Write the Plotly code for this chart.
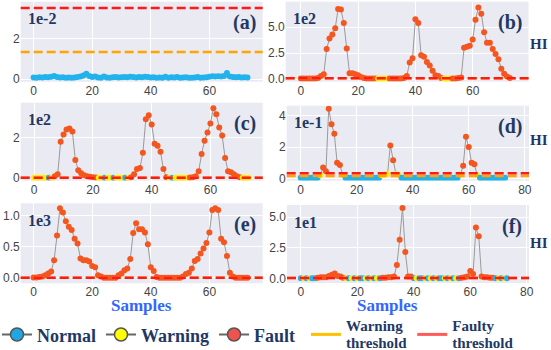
import plotly.graph_objects as go

# ---------------- data ----------------
samples = list(range(74))

# (a) scale 1e-2
hi_a = [0.08, 0.07, 0.09, 0.08, 0.10, 0.09, 0.11, 0.15, 0.10, 0.08,
        0.09, 0.07, 0.08, 0.06, 0.08, 0.10, 0.12, 0.18, 0.26, 0.15,
        0.10, 0.12, 0.08, 0.06, 0.12, 0.08, 0.07, 0.09, 0.10, 0.08,
        0.09, 0.10, 0.09, 0.11, 0.10, 0.08, 0.10, 0.09, 0.11, 0.10,
        0.08, 0.09, 0.07, 0.08, 0.06, 0.11, 0.07, 0.09, 0.08, 0.10,
        0.07, 0.08, 0.09, 0.07, 0.06, 0.08, 0.10, 0.07, 0.08, 0.09,
        0.11, 0.14, 0.12, 0.14, 0.13, 0.15, 0.30, 0.12, 0.10, 0.09,
        0.10, 0.08, 0.09, 0.08]
cls_a = "N" * 74

# (b) scale 1e2
hi_b = [0.05, 0.05, 0.05, 0.05, 0.05, 0.06, 0.10, 0.30, 0.45, 2.90,
        3.90, 4.30, 4.90, 6.75, 6.70, 5.40, 2.95, 0.55, 0.55, 0.45,
        0.35, 0.20, 0.10, 0.06, 0.05, 0.05, 0.05, 0.05, 0.05, 0.05,
        0.05, 0.05, 0.05, 0.05, 0.05, 0.05, 0.10, 0.30, 1.60, 2.00,
        5.75, 5.40, 2.30, 2.15, 1.65, 1.30, 0.80, 0.35, 0.30, 0.10,
        0.05, 0.05, 0.05, 0.05, 0.05, 0.10, 0.15, 3.00, 3.10, 3.20,
        3.80, 5.70, 6.90, 6.30, 4.50, 3.50, 3.50, 2.90, 2.40, 1.90,
        1.00, 0.50, 0.25, 0.10]
cls_b = ("FFFFFFFFFF" "FFFFFFFFFF" "FFFFFFFWWW" "WFFFFFFFFF"
         "FFFFFFFFFF" "WWWFFFFFFF" "FFFFFFFFFF" "FFFF")

# (c) scale 1e2
hi_c = [0.03, 0.03, 0.03, 0.03, 0.03, 0.03, 0.03, 0.10, 0.20, 1.80,
        2.15, 2.40, 2.45, 2.30, 0.90, 0.40, 0.25, 0.15, 0.10, 0.07,
        0.05, 0.04, 0.03, 0.03, 0.03, 0.03, 0.03, 0.03, 0.03, 0.03,
        0.03, 0.03, 0.03, 0.05, 0.20, 0.45, 0.50, 1.25, 2.90, 3.10,
        2.65, 1.70, 1.60, 1.30, 0.45, 0.05, 0.03, 0.03, 0.03, 0.03,
        0.03, 0.03, 0.03, 0.04, 0.05, 0.10, 0.35, 1.20, 1.85, 2.25,
        2.70, 3.45, 3.15, 2.50, 2.10, 1.00, 0.35, 0.30, 0.20, 0.10,
        0.05, 0.03, 0.03, 0.03]
cls_c = ("WWWWWNWFFF" "FFFFFFFFFF" "FFWWNWWNWW" "WNWFFFFFFF"
         "FFFFFFWNWW" "WWWFFFFFFF" "FFFFFFFFFF" "FWWW")

# (d) scale 1e-1
hi_d = [0.04, 0.04, 0.04, 0.04, 0.04, 0.04, 0.04, 0.22, 0.70, 0.45,
        4.45, 3.45, 2.85, 1.00, 0.85, 0.22, 0.04, 0.04, 0.04, 0.04,
        0.04, 0.04, 0.04, 0.04, 0.04, 0.04, 0.04, 0.04, 0.04, 0.20,
        0.25, 0.28, 2.10, 1.15, 0.28, 0.20, 0.04, 0.04, 0.04, 0.04,
        0.04, 0.04, 0.04, 0.04, 0.04, 0.04, 0.04, 0.04, 0.04, 0.04,
        0.04, 0.04, 0.04, 0.04, 0.04, 0.04, 0.04, 0.25, 0.80, 2.65,
        2.00, 1.00, 0.90, 0.22, 0.04, 0.04, 0.04, 0.04, 0.04, 0.04,
        0.04, 0.04, 0.04, 0.04]
cls_d = ("NNNNNNNWFF" "FFFFFWNNNN" "NNNNNNNNNW" "WWFFWWNNNN"
         "NNNNNNNNNN" "NNNNNNNWFF" "FFFWNNNNNN" "NNNN")

# (e) scale 1e3
hi_e = [0.005, 0.005, 0.01, 0.02, 0.04, 0.07, 0.10, 0.28, 0.68, 1.12,
        1.05, 0.91, 0.82, 0.77, 0.63, 0.55, 0.31, 0.28, 0.28, 0.26,
        0.19, 0.17, 0.04, 0.02, 0.00, 0.00, 0.00, 0.00, 0.00, 0.04,
        0.07, 0.12, 0.15, 0.30, 0.72, 0.88, 0.78, 0.78, 0.73, 0.54,
        0.17, 0.11, 0.01, 0.00, 0.00, 0.00, 0.00, 0.00, 0.00, 0.00,
        0.00, 0.02, 0.06, 0.08, 0.15, 0.27, 0.30, 0.39, 0.47, 0.56,
        0.73, 1.09, 1.12, 1.09, 0.63, 0.57, 0.35, 0.08, 0.02, 0.00,
        0.00, 0.00, 0.00, 0.00]
cls_e = "F" * 74

# (f) scale 1e1
hi_f = [0.00, 0.00, 0.00, 0.00, 0.00, 0.00, 0.05, 0.10, 0.10, 0.10,
        0.20, 0.30, 0.40, 0.20, 0.15, 0.05, 0.00, 0.00, 0.00, 0.00,
        0.00, 0.00, 0.00, 0.00, 0.00, 0.00, 0.00, 0.00, 0.00, 0.05,
        0.05, 0.10, 0.10, 0.15, 1.10, 3.15, 5.75, 2.15, 0.15, 0.15,
        0.00, 0.00, 0.00, 0.00, 0.00, 0.00, 0.00, 0.00, 0.00, 0.00,
        0.00, 0.00, 0.00, 0.00, 0.00, 0.00, 0.00, 0.05, 0.10, 0.15,
        0.60, 0.35, 4.15, 3.45, 0.15, 0.10, 0.10, 0.05, 0.05, 0.00,
        0.00, 0.00, 0.00, 0.00]
cls_f = ("NWNWNNFFFF" "FFFFFFWNWN" "WNNWNWNWNF" "FFFFFFFFFF"
         "NWNNWNWNWN" "NWNWNWNFFF" "FFFFFFFFFN" "WNWN")

series = [hi_a, hi_b, hi_c, hi_d, hi_e, hi_f]
classes = [cls_a, cls_b, cls_c, cls_d, cls_e, cls_f]
scale_labels = ["1e-2", "1e2", "1e2", "1e-1", "1e3", "1e1"]
panel_labels = ["(a)", "(b)", "(c)", "(d)", "(e)", "(f)"]
warning_threshold = [1.33, 0.08, 0.03, 0.15, 0.00, 0.02]
fault_threshold = [3.49, 0.08, 0.03, 0.32, 0.00, 0.02]
class_names = {"N": "Normal", "W": "Warning", "F": "Fault"}

# ---------------- styles / layout ----------------
W, H = 551, 350
GH = 316  # height of plotting grid region (bottom margin holds legend)
NAVY = "#1f3864"
SERIF = "Liberation Serif"
SANS = "Liberation Sans"
marker_col = {"N": "#22b2ec", "W": "#ffee00", "F": "#f4561f"}
legend_col = {"N": "#1ea7e4", "W": "#ffff00", "F": "#f0524c"}


def py(px):
    return 1 - px / GH


# panel pixel boxes: x0, x1, y0(top), y1(bottom)
boxes = [(20.7, 262.7, 1.7, 81.7), (285.7, 528.5, 1.7, 81.7),
         (20.7, 262.7, 102.7, 180.7), (286.7, 529.0, 105.7, 180.7),
         (20.7, 262.7, 203.3, 283.3), (287.0, 529.0, 205.0, 283.0)]
xranges = [[-4.4, 78.2], [-5.3, 79.5], [-4.6, 77.8], [-5.0, 81.5],
           [-4.4, 78.2], [-4.9, 80.8]]
yranges = [[-0.13, 3.80], [-0.26, 7.45], [-0.12, 3.72], [-0.15, 4.64],
           [-0.09, 1.20], [-0.38, 6.00]]
ydticks = [2, 2.5, 2, 2, 0.5, 2.5]
yfmts = ["d", ".1f", "d", "d", ".1f", ".1f"]

fig = go.Figure()
layout = dict(width=W, height=H,
              margin=dict(l=0, r=0, t=0, b=H - GH, autoexpand=False),
              paper_bgcolor="white", plot_bgcolor="#eaeaf2",
              showlegend=True)
annotations = []
shapes = []
tfont = dict(family=SANS, size=12, color="#444")

for k in range(6):
    x0, x1, yt, yb = boxes[k]
    sfx = "" if k == 0 else str(k + 1)
    layout["xaxis" + sfx] = dict(
        domain=[x0 / W, x1 / W], range=xranges[k], dtick=20, tick0=0,
        showgrid=True, gridcolor="white", gridwidth=1, zeroline=False,
        showline=False, ticks="", tickfont=tfont, anchor="y" + sfx)
    layout["yaxis" + sfx] = dict(
        domain=[py(yb), py(yt)], range=yranges[k], dtick=ydticks[k], tick0=0,
        tickformat=yfmts[k], showgrid=True, gridcolor="white", gridwidth=1,
        zeroline=False, showline=False, ticks="", tickfont=tfont, anchor="x" + sfx)

    cl = list(classes[k])
    fig.add_trace(go.Scatter(
        x=samples, y=series[k], mode="lines+markers", xaxis="x" + sfx, yaxis="y" + sfx,
        line=dict(color="#9a9a9a", width=1),
        marker=dict(size=6, color=[marker_col[c] for c in cl], line=dict(width=0)),
        showlegend=False, hoverinfo="skip"))

    xd = "x" + sfx + " domain"
    for val, col in ((warning_threshold[k], "#ffa500"), (fault_threshold[k], "#ff1a1a")):
        shapes.append(dict(type="line", xref=xd, yref="y" + sfx, x0=0, x1=1, y0=val, y1=val,
                           line=dict(color=col, width=2.5, dash="9px,4px"), layer="above"))

    annotations.append(dict(xref=xd, yref="paper", x=0.02, y=py(yt + 17),
                            text="<b>%s</b>" % scale_labels[k], showarrow=False,
                            xanchor="left", yanchor="middle",
                            font=dict(family=SERIF, size=16, color=NAVY)))
    annotations.append(dict(xref=xd, yref="paper", x=0.98, y=py(yt + 21),
                            text="<b>%s</b>" % panel_labels[k], showarrow=False,
                            xanchor="right", yanchor="middle",
                            font=dict(family=SERIF, size=20, color=NAVY)))

# HI labels on the right column
for ypx in (44, 140, 243):
    annotations.append(dict(xref="paper", yref="paper", x=539 / W, y=py(ypx),
                            xanchor="center", yanchor="middle",
                            text="<b>HI</b>", showarrow=False,
                            font=dict(family=SERIF, size=15, color=NAVY)))
# Samples labels
for xpx in (141, 387):
    annotations.append(dict(xref="paper", yref="paper", x=xpx / W, y=py(305),
                            xanchor="center", yanchor="middle",
                            text="<b>Samples</b>", showarrow=False,
                            font=dict(family=SERIF, size=17, color="#3366ff")))

# legend-only traces
for c in ("N", "W", "F"):
    fig.add_trace(go.Scatter(
        x=[None], y=[None], mode="lines+markers", legend="legend",
        name="<b>%s</b>" % class_names[c],
        line=dict(color="#666", width=2),
        marker=dict(size=13, color=legend_col[c], line=dict(color="#555", width=1.5))))
fig.add_trace(go.Scatter(
    x=[None], y=[None], mode="lines", legend="legend2",
    name="<span style='font-size:15px'><b>Warning</b></span><br><span style='font-size:15px'><b>threshold</b></span>",
    line=dict(color="#ffc000", width=3)))
fig.add_trace(go.Scatter(
    x=[None], y=[None], mode="lines", legend="legend2",
    name="<span style='font-size:15px'><b>Faulty</b></span><br><span style='font-size:15px'><b>threshold</b></span>",
    line=dict(color="#ff5a5a", width=3)))

layout["legend"] = dict(orientation="h", x=-3 / W, y=py(316.3), xanchor="left", yanchor="top",
                        font=dict(family=SERIF, size=18, color=NAVY),
                        bgcolor="rgba(0,0,0,0)", itemclick=False, itemdoubleclick=False)
layout["legend2"] = dict(orientation="h", x=306 / W, y=py(311.0), xanchor="left", yanchor="top",
                         font=dict(family=SERIF, size=13, color=NAVY),
                         bgcolor="rgba(0,0,0,0)", itemclick=False, itemdoubleclick=False)
layout["annotations"] = annotations
layout["shapes"] = shapes
fig.update_layout(**layout)
fig.write_html("out.html")
